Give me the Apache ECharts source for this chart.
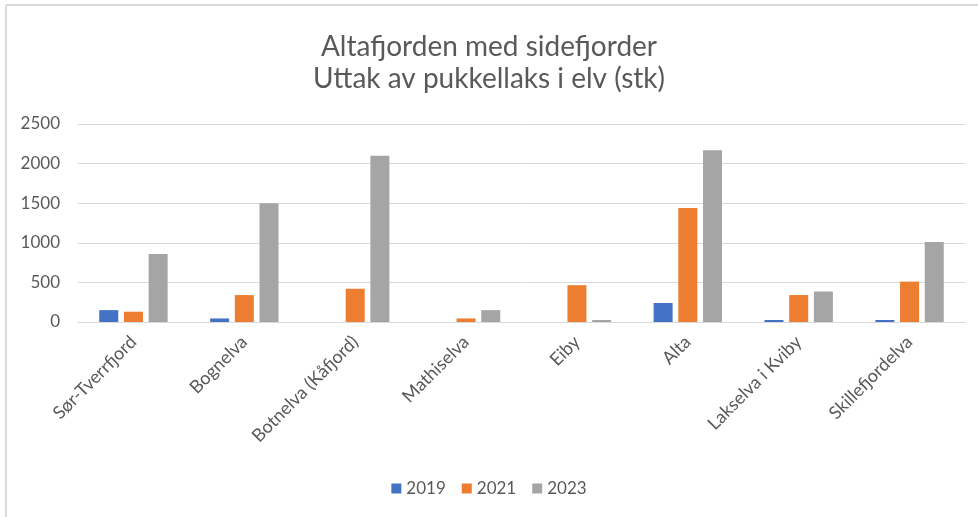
<!DOCTYPE html>
<html>
<head>
<meta charset="utf-8">
<script src="https://cdn.jsdelivr.net/npm/echarts@6/dist/echarts.min.js"></script>
<style>
  html, body { margin: 0; padding: 0; background: #fff; }
  #chart { width: 978px; height: 517px; }
</style>
</head>
<body>
<div id="chart"></div>
<script>
// elver langs Altafjorden
var rivers = ['Sør-Tverrfjord', 'Bognelva', 'Botnelva (Kåfjord)', 'Mathiselva', 'Eiby', 'Alta', 'Lakselva i Kviby', 'Skillefjordelva'];
var years = ['2019', '2021', '2023'];
var catch2019 = [150, 45, 0, 0, 0, 240, 25, 25];
var catch2021 = [130, 340, 420, 45, 465, 1440, 340, 510];
var catch2023 = [860, 1500, 2100, 150, 25, 2170, 385, 1010];
var colors = ['#4472C4', '#ED7D31', '#A5A5A5'];

var chart = echarts.init(document.getElementById('chart'), null, { renderer: 'canvas' });
var textColor = '#595959';
var font = 'Lato, "Open Sans", sans-serif';

var seriesData = [catch2019, catch2021, catch2023];
var series = [];
for (var i = 0; i < years.length; i++) {
  series.push({
    name: years[i],
    type: 'bar',
    data: seriesData[i],
    barWidth: 19,
    barGap: '30%',
    itemStyle: { color: colors[i] }
  });
}

chart.setOption({
  animation: false,
  backgroundColor: '#fff',
  textStyle: { fontFamily: font },
  title: {
    text: 'Altafjorden med sidefjorder\nUttak av pukkellaks i elv (stk)',
    left: 'center',
    top: 26,
    textStyle: { color: textColor, fontSize: 28, fontWeight: 'normal', lineHeight: 32, fontFamily: font }
  },
  legend: {
    data: years,
    bottom: 15,
    left: 'center',
    icon: 'rect',
    itemWidth: 10,
    itemHeight: 10,
    itemGap: 16,
    textStyle: { color: textColor, fontSize: 17, fontFamily: font }
  },
  grid: { left: 78, right: 13, top: 124, bottom: 195 },
  xAxis: {
    type: 'category',
    data: rivers,
    axisLine: { lineStyle: { color: '#d9d9d9' } },
    axisTick: { show: false },
    axisLabel: { color: textColor, fontSize: 18, rotate: 45, interval: 0, margin: 17, fontFamily: font }
  },
  yAxis: {
    type: 'value',
    min: 0,
    max: 2500,
    interval: 500,
    axisLine: { show: false },
    axisTick: { show: false },
    splitLine: { lineStyle: { color: '#d9d9d9' } },
    axisLabel: { color: textColor, fontSize: 17, margin: 18, fontFamily: font, formatter: function (v) { return String(v); } }
  },
  graphic: [
    { type: 'line', shape: { x1: 6, y1: 5, x2: 978, y2: 5 }, style: { stroke: '#d9d9d9', lineWidth: 2 } },
    { type: 'line', shape: { x1: 6, y1: 5, x2: 6, y2: 517 }, style: { stroke: '#d9d9d9', lineWidth: 2 } }
  ],
  series: series
});
</script>
</body>
</html>
